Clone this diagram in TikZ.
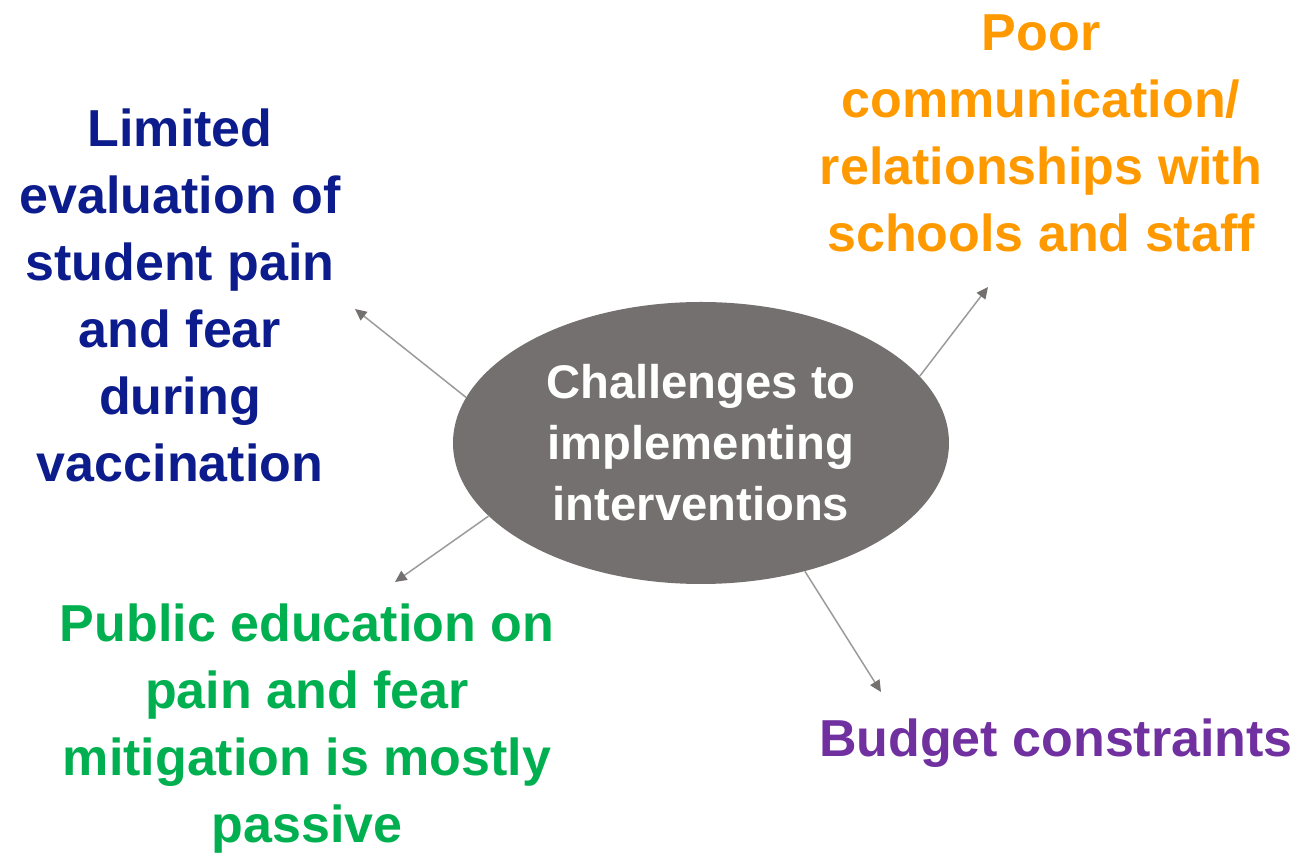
\documentclass[tikz,border=0pt]{standalone}
\usepackage{fontspec}
\setmainfont{Liberation Sans}
\usetikzlibrary{shapes.geometric,arrows.meta}

\definecolor{coregray}{RGB}{117,112,112}
\definecolor{linkgray}{RGB}{155,155,155}
\definecolor{navyblue}{RGB}{12,28,140}
\definecolor{brightorange}{RGB}{255,153,0}
\definecolor{leafgreen}{RGB}{0,176,80}
\definecolor{deeppurple}{RGB}{112,48,160}

\begin{document}
\begin{tikzpicture}[x=0.5pt,y=0.5pt,yscale=-1,xscale=1,
    challenge/.style={font=\bfseries\fontsize{26}{33.5}\selectfont, align=center, inner sep=0pt},
    hub/.style={ellipse, fill=coregray, text=white, inner sep=0pt,
        minimum width=248pt, minimum height=141pt,
        font=\bfseries\fontsize{23.6}{30.5}\selectfont, align=center},
    link/.style={draw=linkgray, line width=0.75pt,
        -{Triangle[length=5.8pt,width=5.4pt,color=coregray]}}]
    % page frame, 1307 x 854
    \useasboundingbox (0,0) rectangle (1307,854);

    % Central ellipse
    \node [hub] (core) at (701,443) {Challenges to\\implementing\\interventions};

    % Text Nodes
    \node [challenge, text=navyblue] (evaluation) at (180,295)
        {Limited\\evaluation of\\student pain\\and fear\\during\\vaccination};
    \node [challenge, text=brightorange] (communication) at (1041,133)
        {Poor\\communication/\\relationships with\\schools and staff};
    \node [challenge, text=leafgreen] (education) at (307,729)
        {Public education on\\pain and fear\\mitigation is mostly\\passive};
    \node [challenge, text=deeppurple] (budget) at (1056,743) {Budget constraints};

    % arrow ends
    \coordinate (evaluation tip) at (355,309);
    \coordinate (communication tip) at (988,287);
    \coordinate (education tip) at (395,582);
    \coordinate (budget tip) at (881,692);

    \draw [link] (core.169.5) -- (evaluation tip);
    \draw [link] (core.17.4) -- (communication tip);
    \draw [link] (core.199.2) -- (education tip);
    \draw [link] (core.309.9) -- (budget tip);
\end{tikzpicture}
\end{document}
